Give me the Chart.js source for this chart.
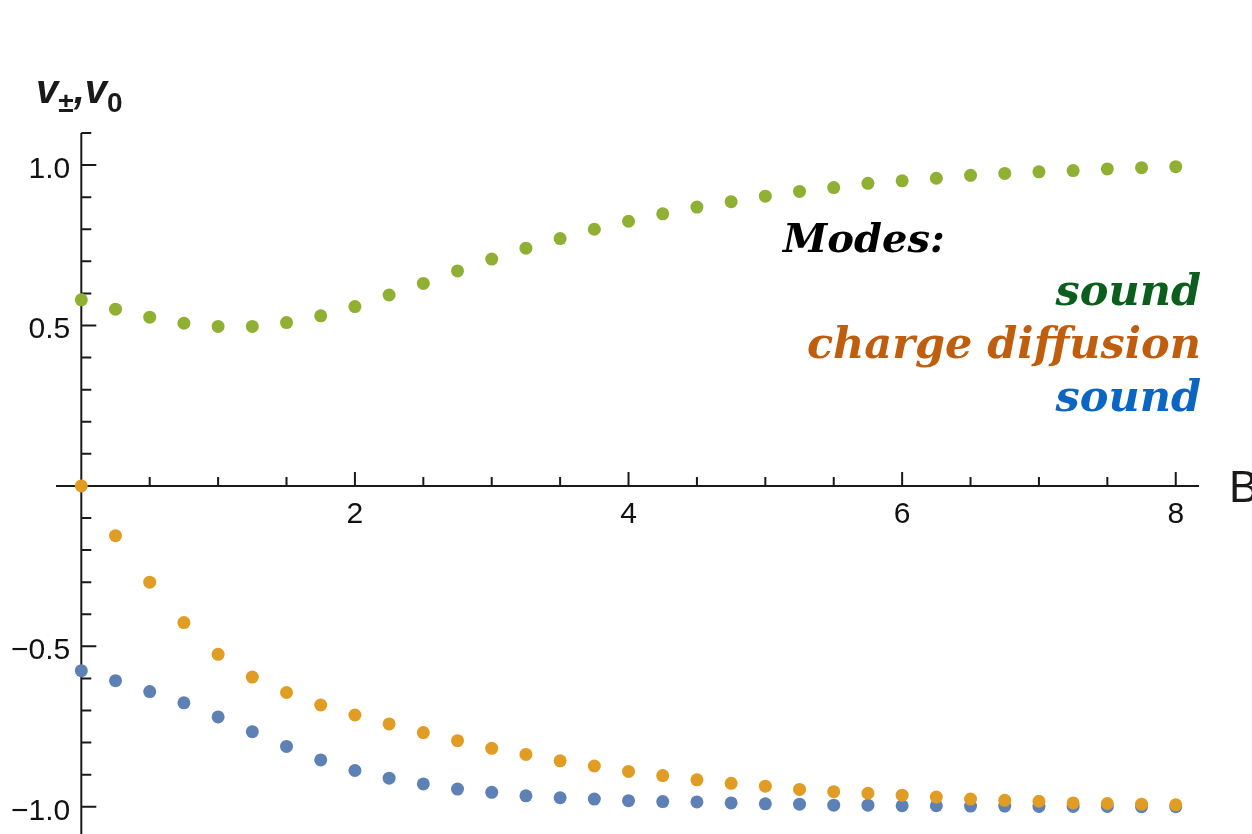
<!DOCTYPE html>
<html>
<head>
<meta charset="utf-8">
<title>Modes</title>
<script src="https://cdn.jsdelivr.net/npm/chart.js@4.4.1/dist/chart.umd.min.js"></script>
<style>
    body { margin: 0; background: #fff; }
    #wrap { position: relative; width: 1252px; height: 834px; overflow: hidden; }
    .lbl { position: absolute; line-height: 1; white-space: nowrap; }
    #ylab { left: 36px; top: 67px; font: italic bold 40px 'Liberation Sans', Arial, sans-serif; color: #1a1a1a; }
    #ylab .sb { font-size: 28px; font-style: normal; position: relative; top: 9px; }
    #xlab { left: 1229px; top: 462px; font: 44px 'Liberation Sans', Arial, sans-serif; color: #1a1a1a; }
    .mode { right: 51px; font: italic bold 43px 'DejaVu Serif', serif; }
</style>
</head>
<body>
<div id="wrap">
    <canvas id="chart" width="1252" height="834"></canvas>
    <div class="lbl" id="ylab">v<span class="sb">±</span>,v<span class="sb">0</span></div>
    <div class="lbl" id="xlab">B</div>
    <div class="lbl mode" style="left:783px; right:auto; top:214px; font-size:40px; color:#000;">Modes:</div>
    <div class="lbl mode" style="top:265px; color:#0b5e1b;">sound</div>
    <div class="lbl mode" style="top:318px; color:#bf5e0e;">charge diffusion</div>
    <div class="lbl mode" style="top:371px; color:#0a66c2;">sound</div>
</div>
<script>
// B values (same for all three modes)
const bValues = [0, 0.25, 0.5, 0.75, 1, 1.25, 1.5, 1.75, 2, 2.25, 2.5, 2.75, 3, 3.25, 3.5, 3.75,
    4, 4.25, 4.5, 4.75, 5, 5.25, 5.5, 5.75, 6, 6.25, 6.5, 6.75, 7, 7.25, 7.5, 7.75, 8];

// upper sound mode v+
const soundUp = [0.580, 0.551, 0.526, 0.507, 0.497, 0.497, 0.509, 0.530, 0.559, 0.595, 0.631,
    0.670, 0.707, 0.741, 0.771, 0.800, 0.825, 0.848, 0.869, 0.886, 0.903, 0.918, 0.930,
    0.943, 0.951, 0.959, 0.968, 0.974, 0.979, 0.983, 0.988, 0.992, 0.995];

// charge diffusion v0
const chargeDiff = [0, -0.155, -0.300, -0.426, -0.525, -0.596, -0.644, -0.683, -0.714, -0.742,
    -0.769, -0.794, -0.818, -0.837, -0.857, -0.873, -0.890, -0.903, -0.916, -0.927, -0.936,
    -0.946, -0.953, -0.958, -0.964, -0.970, -0.976, -0.980, -0.983, -0.988, -0.990, -0.992, -0.994];

// lower sound mode v-
const soundDown = [-0.576, -0.607, -0.641, -0.676, -0.720, -0.766, -0.812, -0.854, -0.887, -0.911,
    -0.929, -0.945, -0.955, -0.966, -0.972, -0.976, -0.981, -0.984, -0.985, -0.988, -0.991,
    -0.992, -0.995, -0.995, -0.997, -0.997, -0.998, -0.998, -0.999, -0.999, -0.999, -1.0, -1.0];

// axis ticks
const xMajorTicks = [2, 4, 6, 8];
const xMinorTicks = [0.5, 1, 1.5, 2.5, 3, 3.5, 4.5, 5, 5.5, 6.5, 7, 7.5];
const yMajorTicks = [-1.0, -0.5, 0.5, 1.0];
const yMinorTicks = [-0.9, -0.8, -0.7, -0.6, -0.4, -0.3, -0.2, -0.1, 0.1, 0.2, 0.3, 0.4,
    0.6, 0.7, 0.8, 0.9, 1.1];

function toPoints(ys) {
    return bValues.map((b, i) => ({ x: b, y: ys[i] }));
}

function fmtY(v) {
    return (v < 0 ? '\u2212' : '') + Math.abs(v).toFixed(1);
}

// axes crossing at the origin, drawn before the dots so they sit on top
const crossAxes = {
    id: 'crossAxes',
    beforeDatasetsDraw(chart) {
        const ctx = chart.ctx;
        const xs = chart.scales.x;
        const ys = chart.scales.y;
        const area = chart.chartArea;
        const x0 = xs.getPixelForValue(0);
        const y0 = ys.getPixelForValue(0);

        ctx.save();
        ctx.strokeStyle = '#1a1a1a';
        ctx.lineWidth = 2;
        ctx.beginPath();
        ctx.moveTo(area.left, y0);
        ctx.lineTo(area.right, y0);
        ctx.moveTo(x0, area.top);
        ctx.lineTo(x0, area.bottom);

        xMajorTicks.forEach(v => {
            const p = xs.getPixelForValue(v);
            ctx.moveTo(p, y0);
            ctx.lineTo(p, y0 - 14);
        });
        xMinorTicks.forEach(v => {
            const p = xs.getPixelForValue(v);
            ctx.moveTo(p, y0);
            ctx.lineTo(p, y0 - 9);
        });
        yMajorTicks.forEach(v => {
            const p = ys.getPixelForValue(v);
            ctx.moveTo(x0, p);
            ctx.lineTo(x0 + 15, p);
        });
        yMinorTicks.forEach(v => {
            const p = ys.getPixelForValue(v);
            ctx.moveTo(x0, p);
            ctx.lineTo(x0 + 10, p);
        });
        ctx.stroke();

        // tick labels
        ctx.fillStyle = '#111';
        ctx.font = '30px "Liberation Sans", Arial, sans-serif';
        ctx.textBaseline = 'alphabetic';
        ctx.textAlign = 'center';
        xMajorTicks.forEach(v => {
            ctx.fillText(String(v), xs.getPixelForValue(v), y0 + 37);
        });
        ctx.textAlign = 'right';
        yMajorTicks.forEach(v => {
            ctx.fillText(fmtY(v), x0 - 11, ys.getPixelForValue(v) + 13);
        });
        ctx.restore();
    }
};

const chart = new Chart(document.getElementById('chart'), {
    type: 'scatter',
    data: {
        datasets: [
            { label: 'sound', data: toPoints(soundUp), backgroundColor: '#8fb032' },
            { label: 'charge diffusion', data: toPoints(chargeDiff), backgroundColor: '#e19c24' },
            { label: 'sound', data: toPoints(soundDown), backgroundColor: '#5e81b5' }
        ]
    },
    options: {
        responsive: false,
        animation: false,
        layout: { autoPadding: false, padding: { left: 56, right: 53, top: 133, bottom: 0 } },
        elements: { point: { radius: 6.5, borderWidth: 0, hoverRadius: 6.5 } },
        datasets: { scatter: { clip: false } },
        scales: {
            x: { type: 'linear', display: false, min: -0.185, max: 8.17 },
            y: { type: 'linear', display: false, min: -1.085, max: 1.1 }
        },
        plugins: {
            legend: { display: false },
            tooltip: { enabled: false }
        }
    },
    plugins: [crossAxes]
});
</script>
</body>
</html>
